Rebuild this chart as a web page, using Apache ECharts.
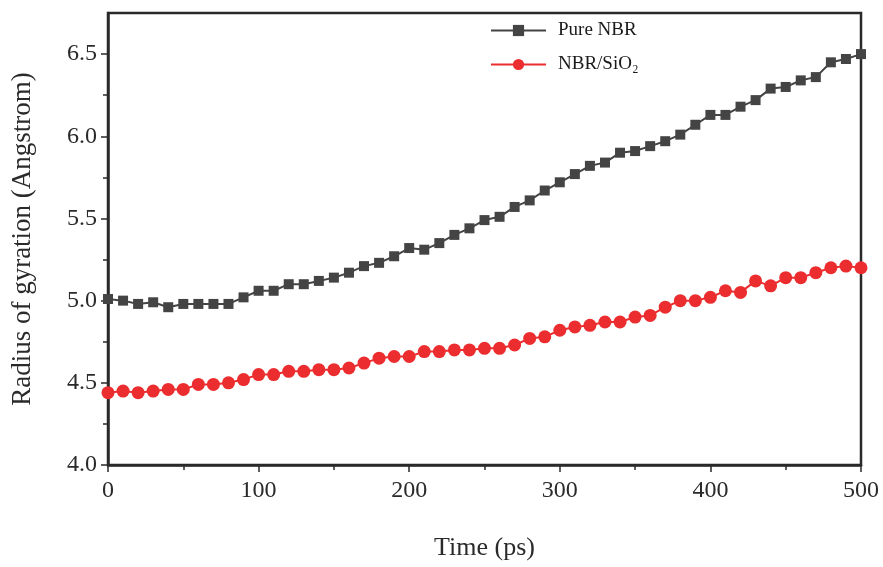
<!DOCTYPE html>
<html><head><meta charset="utf-8">
<script src="https://cdn.jsdelivr.net/npm/echarts@6/dist/echarts.min.js"></script>
<style>html,body{margin:0;padding:0;background:#fff}#c{width:883px;height:567px}</style>
</head><body><div id="c"></div>
<script>
const time = [0,10,20,30,40,50,60,70,80,90,100,110,120,130,140,150,160,170,180,190,200,210,220,230,240,250,260,270,280,290,300,310,320,330,340,350,360,370,380,390,400,410,420,430,440,450,460,470,480,490,500];
const pureNBR = [5.01,5.00,4.98,4.99,4.96,4.98,4.98,4.98,4.98,5.02,5.06,5.06,5.10,5.10,5.12,5.14,5.17,5.21,5.23,5.27,5.32,5.31,5.35,5.40,5.44,5.49,5.51,5.57,5.61,5.67,5.72,5.77,5.82,5.84,5.90,5.91,5.94,5.97,6.01,6.07,6.13,6.13,6.18,6.22,6.29,6.30,6.34,6.36,6.45,6.47,6.50];
const nbrSiO2 = [4.44,4.45,4.44,4.45,4.46,4.46,4.49,4.49,4.50,4.52,4.55,4.55,4.57,4.57,4.58,4.58,4.59,4.62,4.65,4.66,4.66,4.69,4.69,4.70,4.70,4.71,4.71,4.73,4.77,4.78,4.82,4.84,4.85,4.87,4.87,4.90,4.91,4.96,5.00,5.00,5.02,5.06,5.05,5.12,5.09,5.14,5.14,5.17,5.20,5.21,5.20];
const yMajor = [4.0,4.5,5.0,5.5,6.0,6.5];
const yMinor = [4.25,4.75,5.25,5.75,6.25];
const seriesNames = ['Pure NBR','NBR/SiO\u2082'];

const font = 'Liberation Serif';
const chart = echarts.init(document.getElementById('c'));
chart.setOption({
  animation:false,
  backgroundColor:'#fff',
  grid:{left:108,right:22,top:13,bottom:102,show:true,borderColor:'#2a2a2a',borderWidth:2.5,backgroundColor:'transparent'},
  legend:{
    data:seriesNames, left:485, top:16, orient:'vertical', itemGap:15,
    itemWidth:55, itemHeight:14,
    textStyle:{fontFamily:font,fontSize:19,color:'#1a1a1a',padding:[0,0,0,7]}
  },
  xAxis:{
    type:'value', min:0, max:500, interval:100,
    name:'Time (ps)', nameLocation:'middle', nameGap:70,
    nameTextStyle:{fontFamily:font,fontSize:26,color:'#2a2a2a'},
    axisLine:{show:true,lineStyle:{color:'#2a2a2a',width:2.5}},
    axisTick:{show:true,length:7,lineStyle:{color:'#2a2a2a',width:1.5}},
    minorTick:{show:true,splitNumber:2,length:5,lineStyle:{color:'#2a2a2a',width:1.5}},
    axisLabel:{fontFamily:font,fontSize:24,color:'#2a2a2a',margin:14},
    splitLine:{show:false}
  },
  yAxis:[{
    type:'value', min:4.0, max:6.75,
    name:'Radius of gyration (Angstrom)', nameLocation:'middle', nameGap:72, nameRotate:90,
    nameTextStyle:{fontFamily:font,fontSize:27,color:'#2a2a2a'},
    axisLine:{show:true,lineStyle:{color:'#2a2a2a',width:2.5}},
    axisTick:{show:true,length:7,customValues:yMajor,lineStyle:{color:'#2a2a2a',width:1.5}},
    axisLabel:{fontFamily:font,fontSize:24,color:'#2a2a2a',margin:11,customValues:yMajor,formatter:v=>v.toFixed(1)},
    splitLine:{show:false}
  },{
    type:'value', min:4.0, max:6.75, position:'left',
    axisLine:{show:false},
    axisTick:{show:true,length:5,customValues:yMinor,lineStyle:{color:'#2a2a2a',width:1.5}},
    axisLabel:{show:false},
    splitLine:{show:false}
  }],
  series:[{
    name:seriesNames[0], type:'line', yAxisIndex:0,
    data:time.map((t,i)=>[t,pureNBR[i]]),
    symbol:'rect', symbolSize:10,
    lineStyle:{color:'#444',width:2},
    itemStyle:{color:'#444'}
  },{
    name:seriesNames[1], type:'line', yAxisIndex:0,
    data:time.map((t,i)=>[t,nbrSiO2[i]]),
    symbol:'circle', symbolSize:13,
    lineStyle:{color:'#ec2d2f',width:2},
    itemStyle:{color:'#ec2d2f'}
  }]
});
</script></body></html>
